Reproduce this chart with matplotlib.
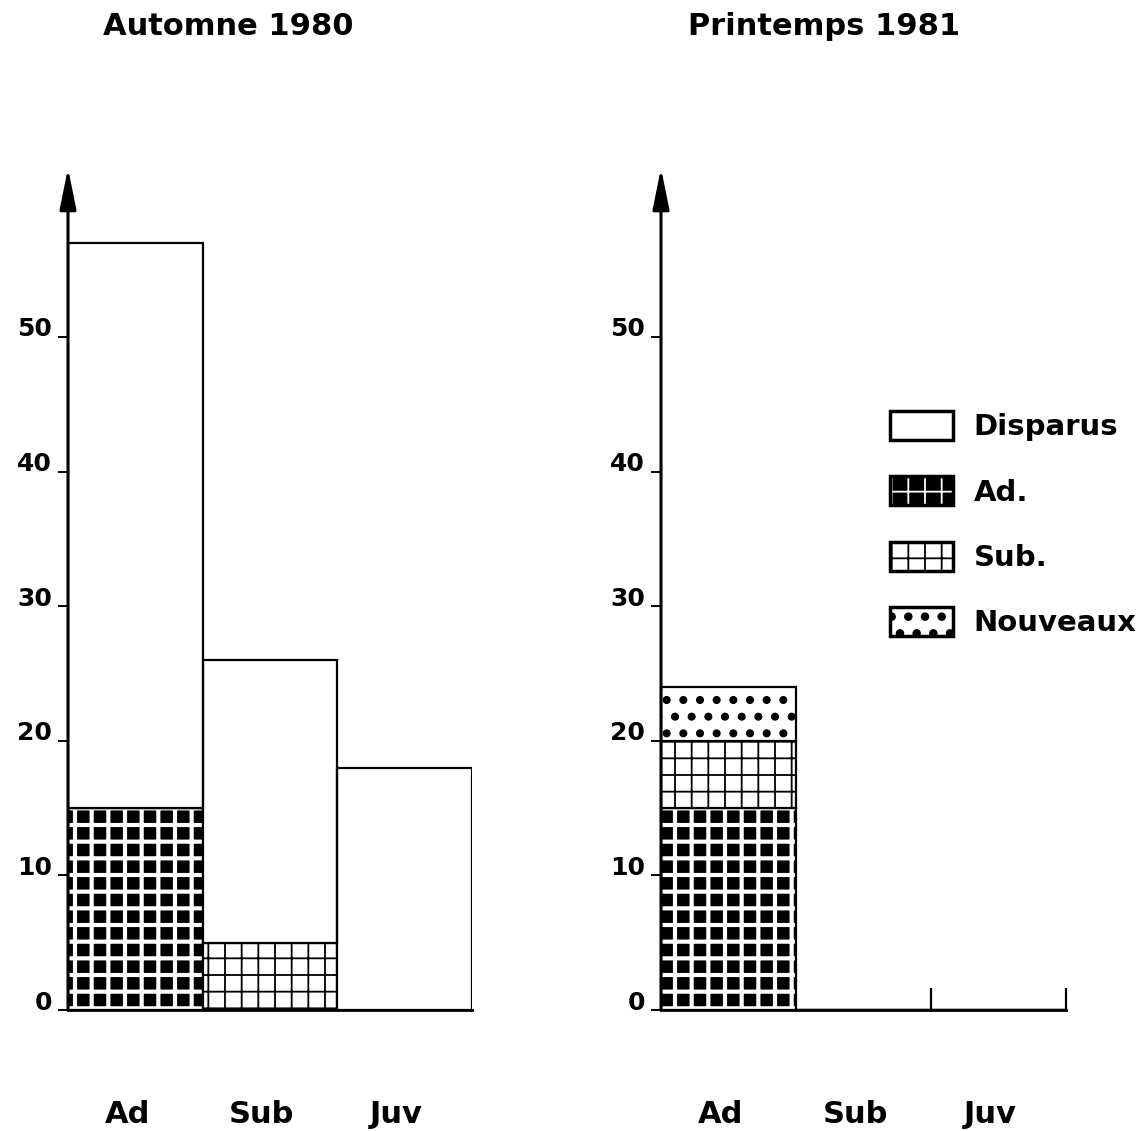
import matplotlib
matplotlib.use("Agg")
import matplotlib.pyplot as plt
import matplotlib.hatch as mhatch
from matplotlib.patches import Patch
import matplotlib.transforms as mtransforms

plt.rcParams['font.family'] = ['DejaVu Sans']
plt.rcParams['font.weight'] = 'bold'

# bigger dots for the "Nouveaux" stipple pattern
mhatch.SmallFilledCircles.size = 0.2

# ---- data ----
categories = ['Ad', 'Sub', 'Juv']
panel_titles = ['Automne 1980', 'Printemps 1981']
yticks = [0, 10, 20, 30, 40, 50]

autumn_ad = [15, 0, 0]
autumn_sub = [0, 5, 0]
autumn_disparus = [42, 21, 18]

spring_ad = [15, 0, 0]
spring_sub = [5, 0, 0]
spring_nouveaux = [4, 0, 0]

legend_labels = ['Disparus', 'Ad.', 'Sub.', 'Nouveaux']

W, H = 1145, 1131
fig = plt.figure(figsize=(W / 100, H / 100), dpi=100)
fig.patch.set_facecolor('white')

YMAX = 62
ax_bottom = (H - 1010) / H
ax_height = YMAX * 13.46 / H
axL = fig.add_axes([68 / W, ax_bottom, 404 / W, ax_height])
axR = fig.add_axes([661 / W, ax_bottom, 405 / W, ax_height])

STYLES = {
    'ad': dict(facecolor='black', edgecolor='white', hatch='+', hlw=3.0),
    'sub': dict(facecolor='white', edgecolor='black', hatch='+', hlw=1.3),
    'nouv': dict(facecolor='white', edgecolor='black', hatch='.', hlw=1.0),
    'disp': dict(facecolor='white', edgecolor='black', hatch=None, hlw=1.0),
}


def set_hlw(patches, lw):
    for p in patches:
        if hasattr(p, 'set_hatch_linewidth'):
            p.set_hatch_linewidth(lw)


def draw_stack(ax, layers):
    x = list(range(len(categories)))
    bottom = [0] * len(categories)
    for key, vals in layers:
        st = STYLES[key]
        bars = ax.bar(x, vals, width=1.0, bottom=bottom, align='edge',
                      facecolor=st['facecolor'], edgecolor=st['edgecolor'],
                      hatch=st['hatch'], linewidth=0)
        set_hlw(bars, st['hlw'])
        ax.bar(x, vals, width=1.0, bottom=bottom, align='edge',
               facecolor='none', edgecolor='black', linewidth=1.6)
        bottom = [b + v for b, v in zip(bottom, vals)]


with plt.rc_context({'hatch.linewidth': 1.3}):
    draw_stack(axL, [('ad', autumn_ad), ('sub', autumn_sub), ('disp', autumn_disparus)])
    draw_stack(axR, [('ad', spring_ad), ('sub', spring_sub), ('nouv', spring_nouveaux)])

for ax, title, tx in zip([axL, axR], panel_titles, [228, 824]):
    ax.set_xlim(0, 3)
    ax.set_ylim(0, YMAX)
    for s in ['top', 'right', 'left']:
        ax.spines[s].set_visible(False)
    ax.spines['bottom'].set_linewidth(2.0)
    ax.set_yticks(yticks)
    ax.set_yticklabels([str(t) for t in yticks], fontsize=18, fontweight='bold')
    ax.tick_params(axis='y', direction='out', length=7.2, width=1.4, pad=4.3)
    offset = mtransforms.ScaledTranslation(0, 10 / 100, fig.dpi_scale_trans)
    for lab in ax.get_yticklabels():
        lab.set_transform(lab.get_transform() + offset)
    ax.annotate('', xy=(0, 62.55), xytext=(0, 0), xycoords='data',
                arrowprops=dict(arrowstyle='-|>,head_length=0.84,head_width=0.17',
                                mutation_scale=30, lw=2.2, color='black',
                                shrinkA=0, shrinkB=0),
                annotation_clip=False)
    fig.text(tx / W, 1 - 35 / H, title, ha='center', va='baseline',
             fontsize=22, fontweight='bold')
    tr = mtransforms.blended_transform_factory(ax.transData, fig.transFigure)
    for i, c in enumerate(categories):
        ax.text(i + 0.44, 1 - 1123 / H, c, transform=tr, ha='center', va='baseline',
                fontsize=22, fontweight='bold')

axL.set_xticks([])
axR.set_xticks([2, 3])
axR.tick_params(axis='x', direction='in', length=16, width=1.6, labelbottom=False)

# legend
handles = []
for key in ['disp', 'ad', 'sub', 'nouv']:
    st = STYLES[key]
    fill = Patch(facecolor=st['facecolor'], edgecolor=st['edgecolor'],
                 hatch=st['hatch'], linewidth=0)
    set_hlw([fill], st['hlw'])
    outline = Patch(facecolor='none', edgecolor='black', linewidth=2.5)
    handles.append((fill, outline))
with plt.rc_context({'hatch.linewidth': 1.3}):
    leg = fig.legend(handles, legend_labels, loc='upper left',
                     bbox_to_anchor=(890 / W, 1 - 411 / H),
                     frameon=False, handlelength=2.17, handleheight=1.15,
                     handletextpad=0.7, labelspacing=1.2, borderpad=0, borderaxespad=0,
                     prop={'weight': 'bold', 'size': 21})
    fig.savefig('out.png', dpi=100, facecolor='white')
